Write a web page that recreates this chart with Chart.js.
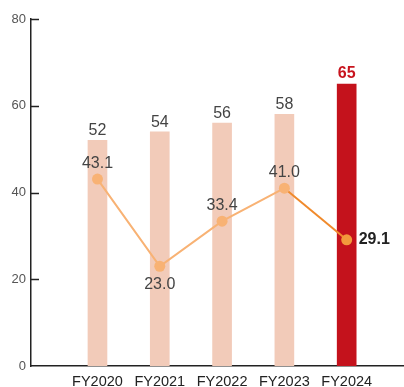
<!DOCTYPE html>
<html><head><meta charset="utf-8">
<script src="https://cdn.jsdelivr.net/npm/chart.js@4.4.0/dist/chart.umd.min.js"></script>
<style>html,body{margin:0;padding:0;background:#fff;}canvas{display:block;}</style>
</head><body>
<canvas id="c" width="404" height="387"></canvas>
<script>
const categories = ['FY2020','FY2021','FY2022','FY2023','FY2024'];
const barValues = [52, 54, 56, 58, 65];
const lineValues = [43.1, 23.0, 33.4, 41.0, 29.1];
const lineLabels = ['43.1','23.0','33.4','41.0','29.1'];
const yTicks = [0, 20, 40, 60, 80];

const FONT = '"Liberation Sans", Arial, Helvetica, sans-serif';
const barColors = barValues.map((v,i)=> i===4 ? '#c4121c' : '#f2cbb9');
const pointColors = lineValues.map((v,i)=> i===4 ? '#f39a3c' : '#f8b274');

const labelPlugin = {
  id: 'labels',
  afterDatasetsDraw(chart) {
    const ctx = chart.ctx;
    ctx.save();
    const bm = chart.getDatasetMeta(1);
    bm.data.forEach((el, i) => {
      const last = i === 4;
      ctx.font = (last ? 'bold ' : '') + '16px ' + FONT;
      ctx.fillStyle = last ? '#c8141e' : '#444';
      ctx.textAlign = 'center';
      ctx.textBaseline = 'alphabetic';
      ctx.fillText(String(barValues[i]), el.x, el.y - (last ? 6 : 5));
    });
    const lm = chart.getDatasetMeta(0);
    lm.data.forEach((el, i) => {
      const last = i === 4;
      ctx.font = (last ? 'bold ' : '') + '16px ' + FONT;
      ctx.fillStyle = last ? '#222' : '#444';
      if (last) {
        ctx.textAlign = 'left'; ctx.textBaseline = 'middle';
        ctx.fillText(lineLabels[i], el.x + 12, el.y);
      } else if (i === 1) {
        ctx.textAlign = 'center'; ctx.textBaseline = 'alphabetic';
        ctx.fillText(lineLabels[i], el.x, el.y + 23);
      } else {
        ctx.textAlign = 'center'; ctx.textBaseline = 'alphabetic';
        ctx.fillText(lineLabels[i], el.x, el.y - 11);
      }
    });
    ctx.restore();
  },
  afterDraw(chart) {
    const ctx = chart.ctx, y = chart.scales.y, left = chart.chartArea.left;
    ctx.save();
    ctx.strokeStyle = '#222'; ctx.lineWidth = 1.5;
    yTicks.forEach(t => {
      if (t === 0) return;
      const py = Math.round(y.getPixelForValue(t)) + 0.5;
      ctx.beginPath(); ctx.moveTo(left, py); ctx.lineTo(left + 8, py); ctx.stroke();
    });
    ctx.restore();
  }
};

new Chart(document.getElementById('c'), {
  data: {
    datasets: [
      {
        type: 'line',
        data: lineValues.map((v,i)=>({x:i, y:v})),
        borderColor: '#f8b274',
        borderWidth: 2,
        pointRadius: 5.5,
        pointBackgroundColor: pointColors,
        pointBorderWidth: 0,
        segment: { borderColor: c => c.p1DataIndex === 4 ? '#f08a2c' : '#f8b274' },
        order: 0
      },
      {
        type: 'bar',
        data: barValues.map((v,i)=>({x:i, y:v})),
        backgroundColor: barColors,
        barThickness: 19,
        order: 1
      }
    ]
  },
  options: {
    responsive: false,
    animation: false,
    layout: { autoPadding: false, padding: { top: 19, right: 0, bottom: 0, left: 0 } },
    plugins: { legend: { display: false }, tooltip: { enabled: false } },
    scales: {
      x: {
        type: 'linear',
        offset: false,
        bounds: 'data',
        min: -1.067, max: 4.92,
        afterBuildTicks: s => { s.ticks = categories.map((c,i)=>({value:i})); },
        afterFit: s => { s.height = 21; s.paddingLeft = 0; s.paddingRight = 0; },
        ticks: {
          autoSkip: false, maxRotation: 0, padding: 7,
          color: '#222', font: { family: FONT, size: 14.5 },
          callback: v => categories[v] ?? ''
        },
        grid: { display: false, drawTicks: false, offset: false },
        border: { display: true, color: '#222', width: 1.5 }
      },
      y: {
        min: 0, max: 80,
        afterBuildTicks: s => { s.ticks = yTicks.map(v=>({value:v})); },
        afterFit: s => { s.width = 31; s.paddingTop = 0; s.paddingBottom = 0; },
        ticks: { padding: 5, color: '#555', font: { family: FONT, size: 13 } },
        grid: { display: false, drawTicks: false },
        border: { display: true, color: '#222', width: 1.5 }
      }
    }
  },
  plugins: [labelPlugin]
});
</script>
</body></html>
